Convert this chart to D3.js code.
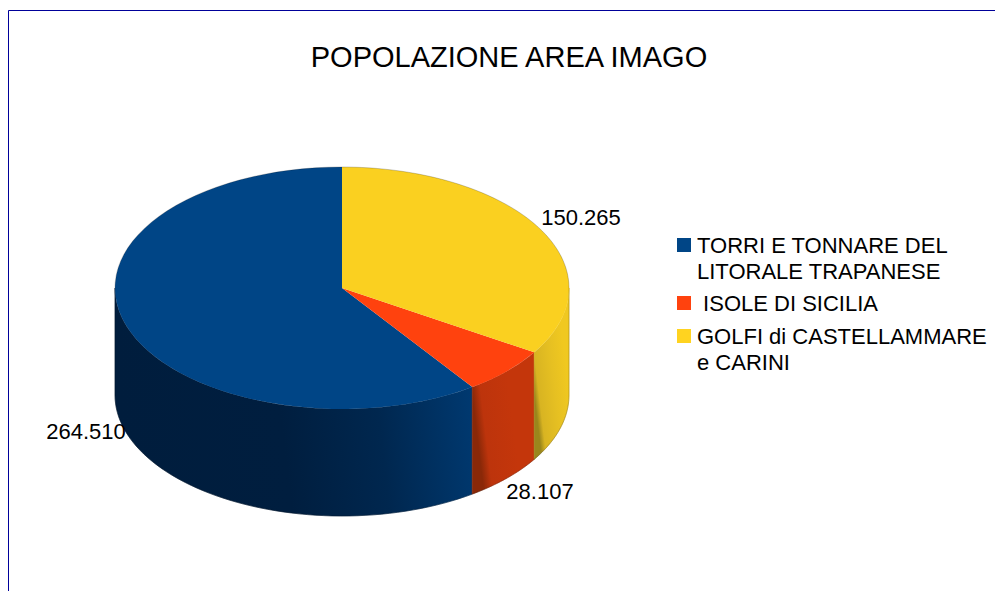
<!DOCTYPE html>
<html>
<head>
<meta charset="utf-8">
<script src="https://cdn.jsdelivr.net/npm/d3@7"></script>
<style>
  html, body { margin: 0; padding: 0; background: #fff; overflow: hidden; }
  text { font-family: "Liberation Sans", Arial, sans-serif; fill: #000; }
</style>
</head>
<body>
<div id="container"></div>
<script>
/* CONSTANTS AND GLOBALS */
const width = 995,
  height = 591;

const cx = 342, cy = 288, rx = 227, ry = 121, depth = 107;

/* DATA */
const categories = ["TORRI E TONNARE DEL LITORALE TRAPANESE", " ISOLE DI SICILIA", "GOLFI di CASTELLAMMARE e CARINI"];
const values = [264510, 28107, 150265];
const valueLabels = ["264.510", "28.107", "150.265"];
const legendLines = [["TORRI E TONNARE DEL", "LITORALE TRAPANESE"], ["\u00a0ISOLE DI SICILIA"], ["GOLFI di CASTELLAMMARE", "e CARINI"]];
const colors = ["#004586", "#ff420e", "#ffd320"];
const faceColors = ["#004586", "#ff420e", "#fad020"];

const svg = d3.select("#container").append("svg")
  .attr("width", width)
  .attr("height", height)
  .style("display", "block");

/* frame */
svg.append("path")
  .attr("d", `M8.5,${height} V10.5 H${width}`)
  .attr("fill", "none")
  .attr("stroke", "#000099")
  .attr("stroke-width", 1);

/* title */
svg.append("text")
  .attr("x", 509)
  .attr("y", 67)
  .attr("text-anchor", "middle")
  .attr("font-size", 29)
  .text("POPOLAZIONE AREA IMAGO");

/* pie goes anticlockwise from twelve o'clock, like the original */
const pie = d3.pie().sort(null).startAngle(0).endAngle(-2 * Math.PI);
const slices = pie(values);

const px = a => cx + rx * Math.sin(a);
const py = a => cy - ry * Math.cos(a);

const defs = svg.append("defs");

/* side wall shading, slanted a little so the bottom comes out darker */
const wallStops = [
  [{ o: 0, c: "#001d3d" }, { o: 0.45, c: "#001e3f" }, { o: 0.72, c: "#00274f" }, { o: 1, c: "#003a72" }],
  [{ o: 0, c: "#8a2808" }, { o: 0.14, c: "#bd340c" }, { o: 0.6, c: "#c4360b" }, { o: 1, c: "#c4360b" }],
  [{ o: 0, c: "#9a861c" }, { o: 0.14, c: "#d8b422" }, { o: 0.6, c: "#e6c022" }, { o: 1, c: "#f0c820" }]
];

// visible part of each slice wall: the front half, between 90 and 270 degrees clockwise
const walls = slices.map((d, i) => {
  let a0 = d.endAngle + 2 * Math.PI, a1 = d.startAngle + 2 * Math.PI;
  a0 = Math.max(a0, Math.PI / 2);
  a1 = Math.min(a1, 3 * Math.PI / 2);
  return { i, a0, a1 };
}).filter(d => d.a1 > d.a0);

walls.forEach(w => {
  const left = Math.min(px(w.a0), px(w.a1));
  const right = Math.max(px(w.a0), px(w.a1));
  const grad = defs.append("linearGradient")
    .attr("id", `wall${w.i}`)
    .attr("gradientUnits", "userSpaceOnUse")
    .attr("x1", left).attr("x2", right)
    .attr("y1", cy + depth).attr("y2", cy + depth - (right - left) * 0.12);
  grad.selectAll("stop").data(wallStops[w.i]).join("stop")
    .attr("offset", d => d.o)
    .attr("stop-color", d => d.c);
});

const wallLine = d3.line();
svg.selectAll(".wall")
  .data(walls)
  .join("path")
  .attr("class", "wall")
  .attr("fill", d => `url(#wall${d.i})`)
  .attr("stroke", d => `url(#wall${d.i})`)
  .attr("stroke-width", 0.6)
  .attr("d", d => {
    const steps = d3.range(0, 61).map(k => d.a0 + (d.a1 - d.a0) * k / 60);
    const top = steps.map(a => [px(a), py(a)]);
    const bottom = steps.slice().reverse().map(a => [px(a), py(a) + depth]);
    return wallLine(top.concat(bottom)) + "Z";
  });

/* top face: a circular arc squashed into the ellipse */
const arc = d3.arc().innerRadius(0).outerRadius(1);
svg.append("g")
  .attr("transform", `translate(${cx},${cy}) scale(${rx},${ry})`)
  .selectAll("path")
  .data(slices)
  .join("path")
  .attr("d", arc)
  .attr("fill", (d, i) => faceColors[i]);

/* thin dark rim round the whole drum */
const rimSteps = d3.range(0, 181).map(k => -Math.PI / 2 + Math.PI * k / 180);
const rimBack = rimSteps.map(a => [px(a), py(a)]);
const rimFront = rimSteps.map(a => [px(a + Math.PI), py(a + Math.PI) + depth]);
svg.append("path")
  .attr("d", wallLine(rimBack.concat(rimFront)) + "Z")
  .attr("fill", "none")
  .attr("stroke", "#000")
  .attr("stroke-opacity", 0.25)
  .attr("stroke-width", 0.8);

/* value labels */
const labelPos = [[86, 439], [540, 499], [581, 225]];
svg.selectAll(".value")
  .data(valueLabels)
  .join("text")
  .attr("class", "value")
  .attr("x", (d, i) => labelPos[i][0])
  .attr("y", (d, i) => labelPos[i][1])
  .attr("text-anchor", "middle")
  .attr("font-size", 22)
  .text(d => d);

/* legend */
const legendTop = [238, 296, 329];
const legend = svg.selectAll(".legend")
  .data(categories)
  .join("g")
  .attr("class", "legend");

legend.append("rect")
  .attr("x", 677)
  .attr("y", (d, i) => legendTop[i])
  .attr("width", 14)
  .attr("height", 14)
  .attr("fill", (d, i) => colors[i]);

legend.append("text")
  .attr("font-size", 22)
  .selectAll("tspan")
  .data((d, i) => legendLines[i].map(line => ({ line, i })))
  .join("tspan")
  .attr("x", 697)
  .attr("y", (d, k) => legendTop[d.i] + 14.5 + k * 26)
  .text(d => d.line);
</script>
</body>
</html>
